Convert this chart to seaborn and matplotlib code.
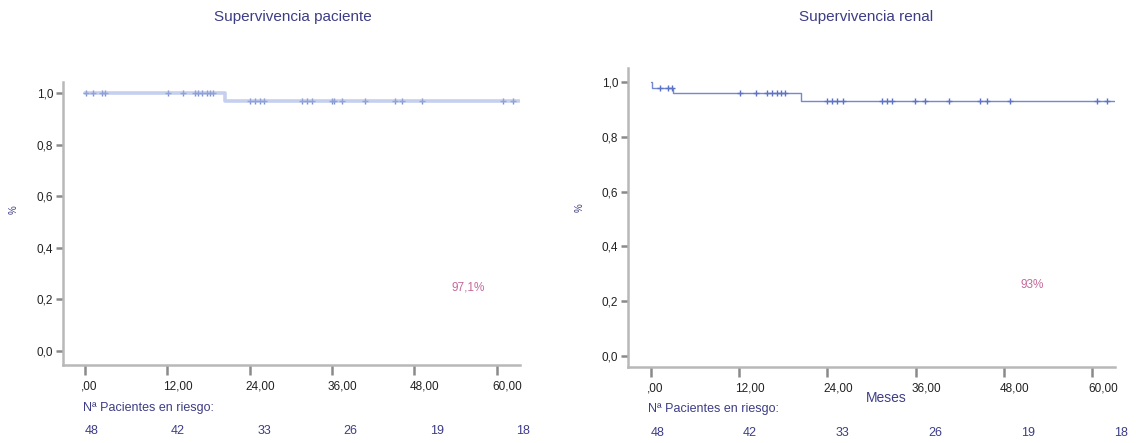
import numpy as np
import pandas as pd
import matplotlib
matplotlib.use("Agg")
import matplotlib.pyplot as plt
import matplotlib.transforms as mtrans
import seaborn as sns

# ---- datos ----
meses_ticks = [0, 12, 24, 36, 48, 60]
etiquetas_x = [",00", "12,00", "24,00", "36,00", "48,00", "60,00"]
y_ticks = [0.0, 0.2, 0.4, 0.6, 0.8, 1.0]
etiquetas_y = ["0,0", "0,2", "0,4", "0,6", "0,8", "1,0"]
en_riesgo = [48, 42, 33, 26, 19, 18]

# supervivencia paciente
pac_t = [0.0, 20.4, 63.3]
pac_s = [1.0, 0.971, 0.971]
pac_cens = [0.1, 1.2, 2.5, 2.9, 12.1, 14.3, 16.0, 16.5, 17.1, 17.8, 18.2, 18.7,
            24.1, 24.8, 25.5, 26.1, 31.6, 32.4, 33.1, 36.0, 36.3, 37.5, 40.8,
            45.2, 46.2, 49.1, 60.9, 62.4]
pac_final = "97,1%"

# supervivencia renal
ren_t = [0.0, 0.2, 3.0, 20.4, 63.1]
ren_s = [1.0, 0.979, 0.958, 0.930, 0.930]
ren_cens = [1.2, 2.3, 2.9, 12.1, 14.3, 15.8, 16.5, 17.1, 17.7, 18.2,
            23.9, 24.6, 25.3, 26.1, 31.4, 32.1, 32.8, 35.9, 37.3, 40.5,
            44.8, 45.7, 48.8, 60.7, 62.0]
ren_final = "93%"

W, H = 1136, 443
azul = "#3d3d86"
rosa = "#c5689b"
gris = "#b8b8b8"

sns.set_style("white")
plt.rcParams["font.family"] = ["Liberation Sans", "DejaVu Sans"]

fig = plt.figure(figsize=(W / 100, H / 100), dpi=100)


def fy(py):
    return 1 - py / H


def panel(rect, xlim, ylim, t, s, cens, linea, marca, lw, alfa, titulo, tx,
          final, fpos, ypct, riesgo_y, nota_y, meses=False):
    ax = fig.add_axes(rect)
    df = pd.DataFrame({"t": t, "s": s})
    sns.lineplot(data=df, x="t", y="s", ax=ax, drawstyle="steps-post",
                 color=linea, lw=lw, alpha=alfa)
    idx = np.searchsorted(t, cens, side="right") - 1
    dc = pd.DataFrame({"t": cens, "s": np.array(s)[idx]})
    sns.scatterplot(data=dc, x="t", y="s", ax=ax, marker="+", s=14,
                    color=marca, linewidth=1.0, alpha=0.9)
    ax.set_xlim(*xlim)
    ax.set_ylim(*ylim)
    ax.set_xticks(meses_ticks)
    ax.set_xticklabels(etiquetas_x)
    ax.set_yticks(y_ticks)
    ax.set_yticklabels(etiquetas_y)
    ax.set_xlabel("")
    ax.set_ylabel("")
    for sp in ["top", "right"]:
        ax.spines[sp].set_visible(False)
    for sp in ["left", "bottom"]:
        ax.spines[sp].set_color(gris)
        ax.spines[sp].set_linewidth(1.8)
    ax.tick_params(axis="both", direction="out", color="#8a8a8a", width=1.8,
                   length=5, labelsize=8.5, labelcolor="#222222", pad=2,
                   bottom=True, left=True)
    ax.tick_params(axis="x", length=7, pad=4)
    off = mtrans.ScaledTranslation(-3 / 72, 0, fig.dpi_scale_trans)
    for lb in ax.get_xticklabels():
        lb.set_ha("left")
        lb.set_transform(lb.get_transform() + off)

    x0 = rect[0] * W
    fig.text(tx / W, fy(17), titulo, ha="center", va="center",
             fontsize=11, color=azul)
    fig.text(ypct[0] / W, fy(ypct[1]), "%", rotation=90, ha="center",
             va="center", fontsize=7, color=azul)
    fig.text(fpos[0] / W, fy(fpos[1]), final, ha="center", va="center",
             fontsize=8.5, color=rosa)
    fig.text((x0 + 20) / W, fy(nota_y), "Nª Pacientes en riesgo:",
             ha="left", va="center", fontsize=9, color=azul)
    tr = mtrans.blended_transform_factory(ax.transData, fig.transFigure)
    for m, n in zip(meses_ticks, en_riesgo):
        ax.text(m * 1.05 + 0.9, fy(riesgo_y), str(n), transform=tr,
                ha="center", va="center", fontsize=9, color=azul)
    if meses:
        fig.text(886 / W, fy(398), "Meses", ha="center", va="center",
                 fontsize=10, color=azul)
    return ax


panel([63 / W, 1 - 365 / H, (520 - 63) / W, (365 - 82) / H],
      (-3.2, 63.4), (-0.054, 1.043), pac_t, pac_s, pac_cens,
      "#9fb1e3", "#6f84c8", 2.6, 0.6, "Supervivencia paciente", 293,
      pac_final, (468, 288), (14, 210), 431, 408)

panel([628 / W, 1 - 367 / H, (1115 - 628) / W, (367 - 68) / H],
      (-3.1, 63.1), (-0.040, 1.051), ren_t, ren_s, ren_cens,
      "#5d76c6", "#4a62bf", 1.0, 0.85, "Supervivencia renal", 866,
      ren_final, (1032, 285), (580, 208), 433, 409, meses=True)

fig.savefig("out.png", dpi=100)
